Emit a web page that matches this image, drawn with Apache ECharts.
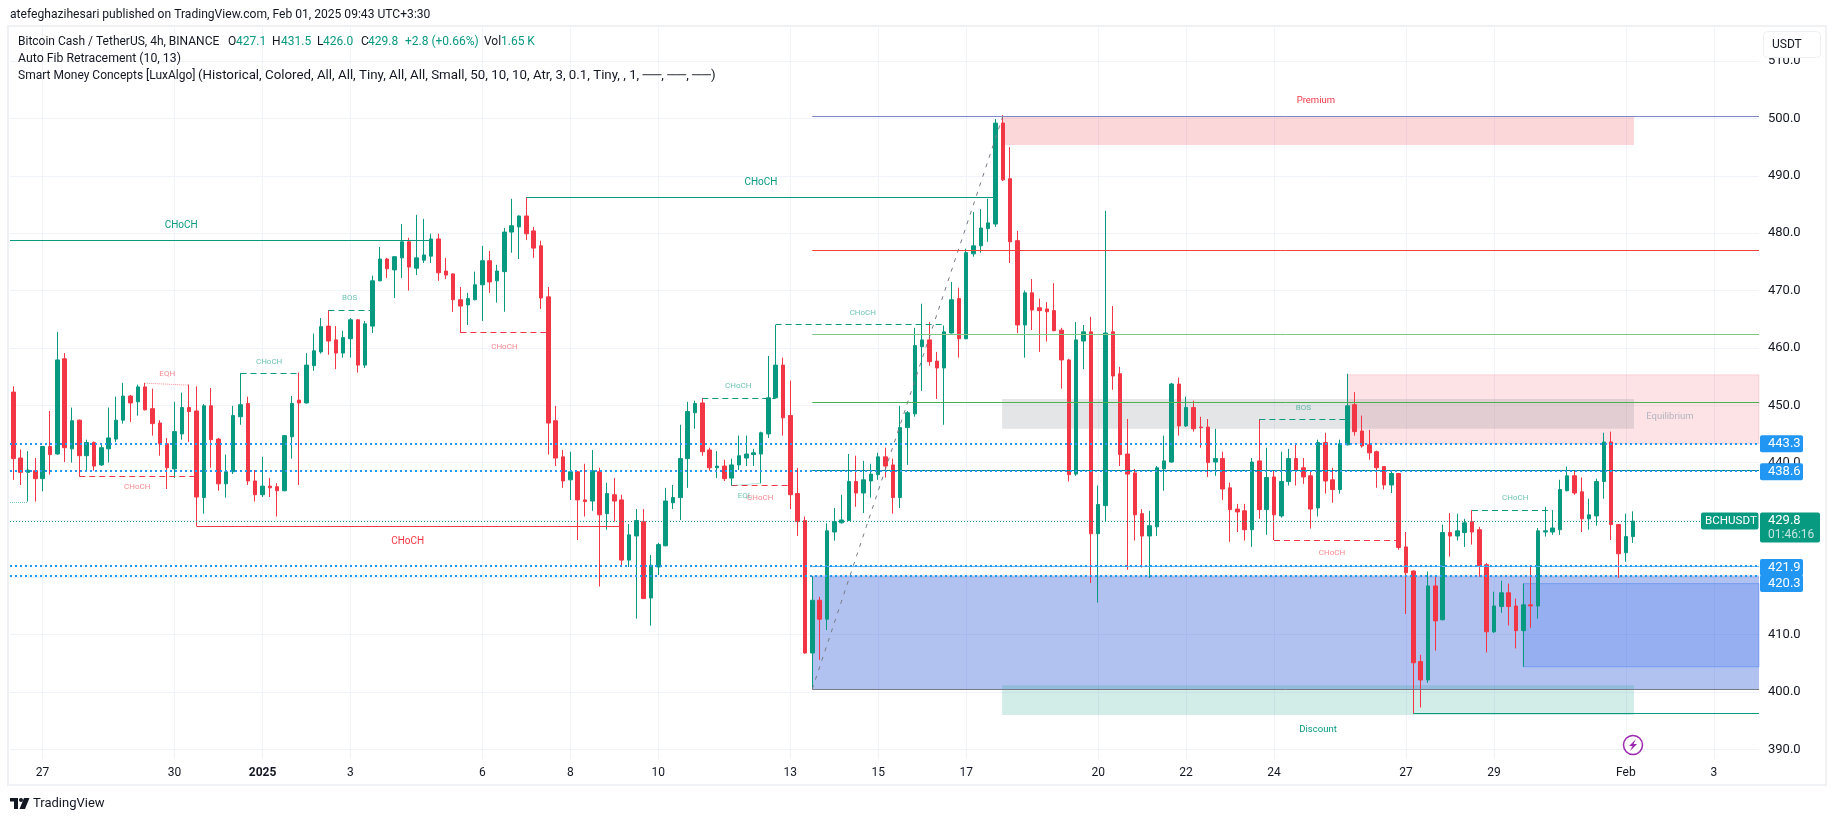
<!DOCTYPE html>
<html>
<head>
<meta charset="utf-8">
<title>BCHUSDT 4h</title>
<style>
  html, body { margin: 0; height: 100%; background: #fff; }
  #chart { width: 1835px; height: 821px; }
</style>
<script src="https://cdn.jsdelivr.net/npm/echarts@6/dist/echarts.min.js"></script>
</head>
<body>
<div id="chart"></div>
<script>
const opens = [
  452.3,440.8,438.3,438.6,437.2,442.8,441.5,458.1,442.4,447.4,441.2,443.5,439.6,442.4,444.1,447.4,451.6,450.6,453.2,449.4,
  446.9,443.3,438.9,445.0,449.6,449.0,433.9,449.9,444.1,436.3,438.4,448.0,450.3,436.8,434.4,435.9,435.8,435.1,444.5,450.9,
  450.4,456.9,459.3,463.8,461.4,459.1,461.6,464.9,457.0,463.8,471.7,475.5,473.6,475.7,478.5,473.9,475.3,476.0,479.0,473.4,
  472.9,468.4,467.5,468.4,471.0,475.2,471.7,473.3,480.2,481.1,483.0,480.4,477.8,468.9,447.3,441.0,437.0,438.4,433.5,433.3,
  438.4,431.1,434.4,433.5,423.0,427.2,429.7,416.4,421.8,425.5,433.0,433.9,440.7,448.7,450.4,442.2,439.1,439.4,437.3,439.6,
  440.8,441.4,441.5,445.0,451.3,457.0,448.2,434.6,429.9,406.8,416.0,412.7,427.9,429.5,429.9,436.7,434.7,436.8,437.9,441.0,
  439.6,433.9,446.1,448.5,460.2,461.4,457.7,456.5,462.6,468.6,461.6,476.4,477.8,480.8,481.6,499.2,489.5,478.7,464.0,469.6,
  467.0,466.8,466.5,463.1,457.9,438.0,461.2,462.8,427.6,432.5,462.8,455.5,441.5,438.2,431.1,427.2,428.8,438.9,440.1,453.7,
  446.4,449.6,446.2,446.2,440.1,440.7,435.6,431.9,431.6,428.3,440.3,431.8,437.5,430.7,436.7,440.7,439.1,437.7,432.1,443.5,
  437.0,435.3,443.1,450.1,445.5,443.1,441.9,439.3,436.1,438.1,425.3,421.1,405.3,402.1,418.5,412.6,427.8,427.2,427.8,429.7,
  428.3,422.2,410.5,414.9,417.3,415.0,410.7,415.2,415.0,427.9,427.9,428.3,435.1,437.7,434.9,430.2,430.7,436.7,443.6,429.2,
  424.3,427.1
];
const closes = [
  440.7,438.3,438.7,437.2,442.8,441.4,457.9,442.6,447.3,441.2,443.5,439.4,442.6,444.3,447.4,451.6,450.4,453.2,449.2,446.8,
  443.3,439.1,445.4,449.6,448.9,434.0,449.9,444.0,436.3,438.4,448.2,450.1,436.8,434.4,435.9,435.6,435.1,444.7,450.3,450.4,
  457.0,459.5,463.7,461.2,459.1,461.8,464.9,457.0,464.2,471.7,475.5,473.8,475.9,478.5,474.1,475.7,476.2,479.0,473.1,472.7,
  468.4,467.3,468.6,471.0,475.2,471.5,473.4,480.2,481.3,483.0,479.9,477.4,468.7,446.9,440.8,436.8,438.4,433.5,433.2,438.6,
  430.9,434.6,433.3,423.0,427.4,429.9,416.3,422.1,425.7,433.3,433.9,440.7,448.9,450.3,441.9,439.1,439.4,437.2,439.6,441.2,
  441.5,441.7,445.2,451.3,457.0,447.8,434.4,429.7,406.8,416.0,412.7,428.1,429.7,430.0,436.7,434.7,437.0,438.0,441.0,439.4,
  433.9,446.1,448.7,460.4,461.4,457.6,456.5,462.8,468.4,461.6,476.6,477.8,480.9,481.8,499.2,489.3,478.5,464.0,469.6,466.6,
  466.5,466.3,463.0,457.9,437.9,461.4,462.8,427.6,432.7,462.6,455.1,441.4,438.0,430.9,427.2,429.0,439.1,440.3,453.7,446.4,
  449.6,445.9,446.1,440.0,440.7,435.4,431.8,431.4,428.3,440.1,431.8,437.4,430.9,436.7,440.7,438.7,437.5,431.9,443.5,436.8,
  435.3,443.3,449.9,445.4,442.9,441.7,439.1,436.1,438.1,425.2,420.8,405.1,402.1,418.5,412.4,427.8,427.2,428.1,429.5,427.9,
  422.0,410.5,415.0,417.3,414.9,410.7,415.2,415.0,428.1,428.1,428.6,435.3,437.7,434.7,430.2,430.9,436.7,443.6,429.2,424.1,
  427.1,429.8
];
const lows = [
  437.0,436.1,433.2,433.2,435.0,437.9,441.4,440.1,440.0,437.6,438.6,438.6,439.4,440.0,443.6,446.8,447.1,448.2,449.1,444.7,
  441.2,435.4,437.3,444.0,443.6,428.9,431.1,439.1,435.1,433.9,438.0,446.6,436.1,433.2,434.0,434.0,430.6,435.0,440.7,436.1,
  450.3,456.0,459.0,458.8,456.3,458.3,458.3,455.7,456.5,462.6,471.6,472.2,468.7,472.2,470.0,472.7,474.8,474.8,471.7,472.0,
  466.3,462.6,464.0,468.3,464.7,469.6,467.9,466.3,476.6,475.5,478.8,475.7,466.8,441.4,439.4,435.6,433.5,426.5,430.6,431.6,
  418.4,428.3,429.7,422.0,421.8,412.8,416.2,411.6,420.4,425.4,431.9,430.0,435.6,445.9,441.2,438.6,437.3,436.8,436.0,438.7,
  439.4,439.4,436.4,444.3,451.2,444.7,431.9,427.2,406.7,400.5,405.6,410.8,426.4,429.4,429.8,432.3,431.2,433.9,437.0,437.4,
  431.1,432.1,439.6,448.0,452.5,456.9,451.1,446.6,462.5,458.3,461.5,475.9,476.6,478.5,481.1,489.1,474.8,462.6,458.3,463.1,
  459.3,461.1,462.9,452.9,436.7,437.7,456.3,419.0,415.6,429.7,452.7,439.4,421.3,426.4,421.7,419.9,427.2,435.1,440.0,444.7,
  446.2,445.4,442.6,437.5,437.7,433.5,426.2,427.9,426.4,425.3,430.2,427.4,426.5,430.4,436.0,436.0,436.3,428.5,430.6,434.6,
  433.0,434.6,443.0,444.7,442.6,440.5,435.6,435.3,434.7,424.8,413.6,396.2,397.3,401.6,407.2,412.5,423.6,426.4,425.3,425.7,
  420.1,406.9,410.3,413.8,411.6,407.6,404.4,411.2,412.8,427.1,427.4,427.4,435.0,434.4,427.9,428.3,429.0,433.7,426.5,419.9,
  422.7,426.0
];
const highs = [
  453.3,442.3,442.0,440.8,442.9,449.0,462.8,459.1,449.6,447.5,444.0,443.7,443.3,449.6,451.5,453.9,451.8,453.6,453.9,452.9,
  447.4,444.3,450.6,452.2,453.6,453.3,450.2,453.0,444.3,441.4,449.9,455.6,451.5,438.7,441.0,437.3,436.4,444.8,451.6,455.7,
  459.1,462.5,465.2,466.6,463.8,463.0,465.2,465.0,464.7,472.6,477.6,475.7,476.0,481.6,479.2,483.2,482.5,479.9,479.9,475.7,
  473.0,470.6,469.6,473.3,477.8,476.9,474.5,480.9,486.0,483.1,486.3,481.1,478.7,470.6,449.9,442.2,441.9,438.5,439.8,442.2,
  439.1,436.5,437.3,434.4,429.3,431.9,431.9,423.9,426.0,435.6,436.1,446.6,450.6,450.8,451.3,442.6,442.0,440.5,440.7,444.7,
  444.7,442.4,445.4,458.6,464.0,458.3,454.3,439.1,430.6,420.2,416.6,429.4,432.1,434.4,441.5,441.2,440.3,439.8,441.7,442.6,
  440.7,449.9,449.0,463.5,467.7,464.5,459.3,463.9,471.5,470.5,477.3,483.7,484.2,486.0,499.9,500.6,495.0,480.4,470.0,472.0,
  468.6,468.0,471.3,463.5,458.1,464.5,464.0,465.4,436.0,483.9,467.3,456.7,447.6,438.9,431.9,431.6,439.4,444.7,453.9,454.8,
  451.5,450.8,448.0,447.6,445.9,441.9,436.5,432.8,432.8,440.8,447.6,442.6,438.7,441.9,442.4,443.3,440.8,438.6,444.0,445.2,
  439.1,444.0,455.5,452.3,448.2,445.7,442.1,439.4,438.4,438.2,427.9,421.2,406.5,421.0,420.3,429.2,431.2,431.1,430.2,431.7,
  428.8,422.5,417.5,419.4,418.9,416.3,418.9,422.0,428.6,432.3,431.7,437.0,439.3,438.7,437.4,433.7,437.2,445.2,445.4,429.3,
  431.1,431.5
];

// time axis: candle index of each date label, 4h bars so 6 to a day
const dayTicks = [4, 22, 34, 46, 64, 76, 88, 106, 118, 130, 148, 160, 172, 190, 202, 220, 232];
const dayLabels = ['27', '30', '2025', '3', '6', '8', '10', '13', '15', '17', '20', '22', '24', '27', '29', 'Feb', '3'];
const priceTicks = [390, 400, 410, 420, 430, 440, 450, 460, 470, 480, 490, 500, 510];

// [candle, price, candle, price]
const chochUpLines = [[-0.45, 478.7, 57, 478.7], [70, 486.3, 134, 486.3], [191, 396.2, 238.16, 396.2]];
const chochDownLines = [[25, 428.9, 83, 428.9]];
const dashUpLines = [
  [31, 455.6, 39, 455.6], [43, 466.6, 49, 466.6], [94, 451.2, 104, 451.2],
  [104, 464.0, 127, 464.0], [170, 447.6, 182, 447.6], [199, 431.7, 210, 431.7]
];
const dashDownLines = [[9, 437.6, 25, 437.6], [61, 462.6, 73, 462.6], [98, 436.0, 106, 436.0], [172, 426.5, 189, 426.5]];
const eqHighLines = [[18, 453.85, 24, 453.5]];
const eqLowLines = [[-0.45, 433.0, 2, 433.0], [98, 436.0, 102, 436.4]];
const fibTrend = [109, 400.5, 135, 500.4];

const fibLevels = [500.4, 477.0, 462.3, 450.4, 438.7, 421.9, 400.5];
const rayLevels = [443.3, 438.6, 421.9, 420.3];
const lastPrice = 429.8;

// [candle, price, candle, price]
const fibZone = [109, 420.3, 238.16, 400.5];
const supplyBlock = [182, 455.3, 238.16, 443.3];
const demandBlock = [206, 418.9, 238.16, 404.4];
const premiumZone = [134.9, 500.4, 221.1, 495.4];
const equilibriumZone = [134.9, 451.1, 221.1, 445.9];
const discountZone = [134.9, 401.2, 221.1, 396.0];

const bigLabels = [['CHoCH', 22.9, 481.4, 'up'], ['CHoCH', 53.8, 426.2, 'down'], ['CHoCH', 102, 488.9, 'up']];
const smallLabels = [
  ['CHoCH', 16.9, 435.7, 'down'], ['EQH', 21, 455.4, 'down'], ['CHoCH', 34.9, 457.5, 'up'], ['BOS', 45.9, 468.7, 'up'],
  ['CHoCH', 67, 460.2, 'down'], ['CHoCH', 98.9, 453.4, 'up'], ['EQL', 99.8, 434.2, 'up'], ['CHoCH', 101.9, 433.8, 'down'],
  ['CHoCH', 115.9, 466.1, 'up'], ['BOS', 176, 449.5, 'up'], ['CHoCH', 179.9, 424.2, 'down'], ['CHoCH', 204.9, 433.8, 'up']
];
const zoneLabels = [['Premium', 177.7, 503.1, '#f23645'], ['Equilibrium', 226, 448.1, '#b2b5be'], ['Discount', 178, 393.4, '#089981']];

const UP = '#089981';
const DOWN = '#f23645';
const TEXT = '#131722';
const FONT = 'Roboto, sans-serif';
const fibColors = ['#7f88c4', '#f44336', '#81c784', '#4caf50', '#00897b', '#64b5f6', '#787b86'];

const chart = echarts.init(document.getElementById('chart'));

// custom series so flat lines can sit on a whole pixel and stay sharp
function segment(seg, color, type, width, opacity) {
  const w = width || 1;
  return {
    type: 'custom', z: 5, silent: true, animation: false,
    data: [seg],
    encode: { x: [0, 2], y: [1, 3] },
    renderItem: (params, api) => {
      const a = api.coord([api.value(0), api.value(1)]);
      const b = api.coord([api.value(2), api.value(3)]);
      const flat = api.value(1) === api.value(3);
      const ya = flat ? Math.round(a[1] - w / 2) + w / 2 : a[1];
      const yb = flat ? ya : b[1];
      return {
        type: 'line',
        shape: { x1: a[0], y1: ya, x2: b[0], y2: yb },
        style: { stroke: color, lineWidth: w, lineDash: Array.isArray(type) ? type : null, opacity: opacity == null ? 1 : opacity, fill: null }
      };
    }
  };
}

function zone(z, fill, border) {
  return [
    { xAxis: z[0], yAxis: z[1], itemStyle: { color: fill, borderColor: border || 'transparent', borderWidth: border ? 1 : 0 } },
    { xAxis: z[2], yAxis: z[3] }
  ];
}

function textSeries(rows, size, opacityVal, colorOf) {
  return {
    type: 'scatter', z: 6, silent: true, symbolSize: 0, animation: false,
    data: rows.map(r => ({
      value: [r[1], r[2]],
      label: { show: true, position: 'inside', formatter: r[0], fontFamily: FONT, fontSize: size, color: colorOf(r), opacity: opacityVal }
    }))
  };
}

const candleData = opens.map((o, i) => [i, o, closes[i], lows[i], highs[i]]);
const sideColor = r => (r[3] === 'up' ? UP : DOWN);

const series = [
  {
    type: 'line', z: 1, silent: true, data: [], animation: false,
    markArea: {
      silent: true, animation: false,
      data: [
        zone(fibZone, 'rgba(45,90,215,0.37)'),
        zone(supplyBlock, 'rgba(242,54,69,0.14)', 'rgba(242,54,69,0.14)'),
        zone(demandBlock, 'rgba(33,100,243,0.2)', 'rgba(33,110,243,0.35)'),
        zone(premiumZone, 'rgba(242,54,69,0.2)'),
        zone(equilibriumZone, 'rgba(120,123,134,0.2)'),
        zone(discountZone, 'rgba(8,153,129,0.18)')
      ]
    }
  },
  {
    type: 'candlestick', z: 3, silent: true, barWidth: 4, animation: false,
    encode: { x: 0, y: [1, 2, 3, 4] },
    data: candleData,
    itemStyle: { color: UP, color0: DOWN, borderColor: UP, borderColor0: DOWN, borderWidth: 1 }
  },
  segment(fibTrend, '#787b86', [4, 6], 1)
];

chochUpLines.forEach(s => series.push(segment(s, UP, 'solid', 1)));
chochDownLines.forEach(s => series.push(segment(s, DOWN, 'solid', 1)));
dashUpLines.forEach(s => series.push(segment(s, UP, [6, 4], 1)));
dashDownLines.forEach(s => series.push(segment(s, DOWN, [6, 4], 1)));
eqHighLines.forEach(s => series.push(segment(s, DOWN, [1, 1], 1, 0.55)));
eqLowLines.forEach(s => series.push(segment(s, UP, [1, 1], 1, 0.55)));
fibLevels.forEach((p, i) => series.push(segment([109, p, 238.16, p], fibColors[i], 'solid', 1)));
rayLevels.forEach(p => series.push(segment([-0.45, p, 238.16, p], '#2196f3', [2, 3], 2)));
series.push(segment([-0.45, lastPrice, 238.16, lastPrice], UP, [1, 2], 1));
series.push(textSeries(bigLabels, 10, 1, sideColor));
series.push(textSeries(smallLabels, 8, 0.6, sideColor));
series.push(textSeries(zoneLabels, 9.5, 1, r => r[3]));

chart.setOption({
  animation: false,
  backgroundColor: '#fff',
  grid: { left: 10, top: 28, width: 1749, height: 731, containLabel: false },
  xAxis: {
    type: 'value', min: -0.45, max: 238.16,
    axisLine: { show: false },
    axisTick: { show: false, customValues: dayTicks },
    splitLine: { show: true, lineStyle: { color: '#f0f3fa' } },
    axisLabel: {
      customValues: dayTicks, margin: 8, color: TEXT, fontFamily: FONT, fontSize: 12,
      formatter: v => {
        const s = dayLabels[dayTicks.indexOf(v)];
        return s === '2025' ? '{b|2025}' : s;
      },
      rich: { b: { fontWeight: 'bold', fontFamily: FONT, fontSize: 12, color: TEXT } }
    }
  },
  yAxis: {
    type: 'value', position: 'right', min: 388.32, max: 515.78,
    axisLine: { show: false },
    axisTick: { show: false, customValues: priceTicks },
    splitLine: { show: true, lineStyle: { color: '#f0f3fa' } },
    axisLabel: {
      customValues: priceTicks, margin: 9, color: TEXT, fontFamily: FONT, fontSize: 13,
      formatter: v => v.toFixed(1)
    }
  },
  series
});

// price scale tags and legend text go on top, tags follow the axis via convertToPixel
const yOf = p => chart.convertToPixel({ yAxisIndex: 0 }, p);

function txt(x, y, text, size, color) {
  return {
    type: 'text', x, y, z: 30,
    style: { text, font: size + 'px ' + FONT, fill: color, textVerticalAlign: 'middle' }
  };
}

function priceTag(price, shift) {
  const cy = yOf(price) + shift;
  return [
    { type: 'rect', z: 29, shape: { x: 1760, y: cy - 8.5, width: 43, height: 17, r: 2 }, style: { fill: '#2196f3' } },
    txt(1768, cy, price.toFixed(1), 13, '#fff')
  ];
}

const lastY = yOf(lastPrice);
const elements = [
  { type: 'rect', z: 0, shape: { x: 8, y: 26, width: 1818, height: 759 }, style: { fill: 'none', stroke: '#f0f1f4', lineWidth: 2 } },
  txt(10, 15, 'atefeghazihesari published on TradingView.com, Feb 01, 2025 09:43 UTC+3:30', 12.1, TEXT),

  txt(18, 42, 'Bitcoin Cash / TetherUS, 4h, BINANCE', 12, TEXT),
  txt(228, 42, 'O', 12, TEXT), txt(236, 42, '427.1', 12, UP),
  txt(272, 42, 'H', 12, TEXT), txt(281, 42, '431.5', 12, UP),
  txt(317, 42, 'L', 12, TEXT), txt(323, 42, '426.0', 12, UP),
  txt(361, 42, 'C', 12, TEXT), txt(368, 42, '429.8', 12, UP),
  txt(405, 42, '+2.8 (+0.66%)', 12, UP),
  txt(484, 42, 'Vol', 12, TEXT), txt(501, 42, '1.65 K', 12, UP),
  txt(18, 59, 'Auto Fib Retracement (10, 13)', 12.3, TEXT),
  txt(18, 76, 'Smart Money Concepts [LuxAlgo]', 12, TEXT),
  txt(198, 76, '(Historical, Colored, All, All, Tiny, All, All, Small, 50, 10, 10, Atr, 3, 0.1, Tiny, , 1, \u2500\u2500, \u2500\u2500, \u2500\u2500)', 13.3, TEXT),

  { type: 'rect', z: 29, shape: { x: 1763.5, y: 31.5, width: 57, height: 26, r: 4 }, style: { fill: '#fff', stroke: '#eff0f3', lineWidth: 1 } },
  txt(1772, 44.5, 'USDT', 12, TEXT),

  { type: 'rect', z: 29, shape: { x: 1701, y: lastY - 8.5, width: 57.5, height: 17, r: 2 }, style: { fill: UP } },
  txt(1705, lastY, 'BCHUSDT', 11.6, '#fff'),
  { type: 'rect', z: 29, shape: { x: 1760, y: lastY - 8.5, width: 60, height: 30, r: 2 }, style: { fill: UP } },
  txt(1768, lastY, lastPrice.toFixed(1), 13, '#fff'),
  txt(1768, lastY + 13.5, '01:46:16', 12, 'rgba(255,255,255,0.75)'),

  { type: 'circle', z: 29, shape: { cx: 1633, cy: 745, r: 9.5 }, style: { fill: '#fff', stroke: '#9c27b0', lineWidth: 1.5 } },
  { type: 'polygon', z: 30, shape: { points: [[1636, 739], [1629, 746], [1632.5, 746], [1630, 751], [1637, 744], [1633.5, 744]] }, style: { fill: '#9c27b0' } },

  { type: 'rect', z: 30, shape: { x: 10, y: 798, width: 8, height: 3.5 }, style: { fill: TEXT } },
  { type: 'rect', z: 30, shape: { x: 14, y: 798, width: 4, height: 11 }, style: { fill: TEXT } },
  { type: 'circle', z: 30, shape: { cx: 21, cy: 800, r: 2 }, style: { fill: TEXT } },
  { type: 'polygon', z: 30, shape: { points: [[24, 798], [29.5, 798], [25, 809], [19.5, 809]] }, style: { fill: TEXT } },
  txt(33, 804, 'TradingView', 13, TEXT)
];
priceTag(443.3, 0).concat(priceTag(438.6, 1), priceTag(421.9, 1), priceTag(420.3, 8)).forEach(e => elements.push(e));

chart.setOption({ graphic: { elements } });
</script>
</body>
</html>
